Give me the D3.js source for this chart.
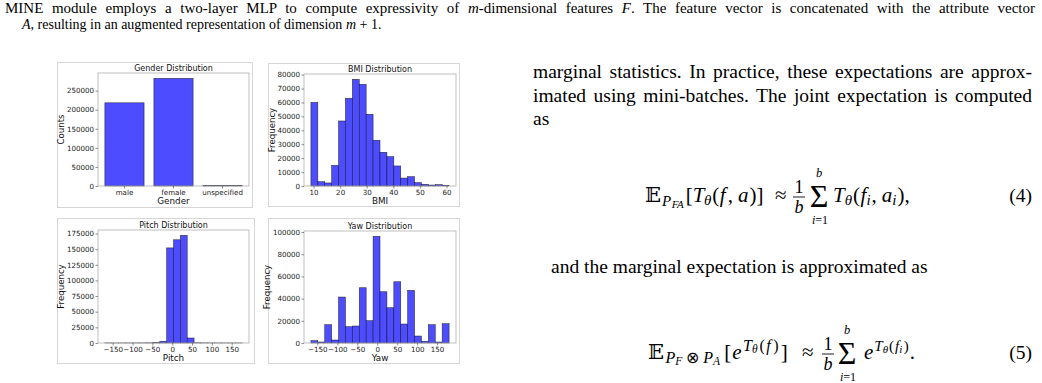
<!DOCTYPE html>
<html>
<head>
<meta charset="utf-8">
<script src="https://cdn.jsdelivr.net/npm/d3@7"></script>
<style>
  body { margin: 0; background: #fff; }
  svg text { white-space: pre; }
</style>
</head>
<body>
<svg id="page" width="1042" height="383"></svg>
<script>
// Gender bar chart
const genderCats = ["male", "female", "unspecified"];
const genderCounts = [218000, 282000, 1500];
const genderYTicks = [0, 50000, 100000, 150000, 200000, 250000];

// BMI histogram
const bmiEdges = [9.0, 11.6, 14.2, 16.8, 19.4, 22.0, 24.6, 27.2, 29.8, 32.4, 35.0, 37.6, 40.2, 42.8, 45.4, 48.0, 50.6, 53.2, 55.8, 58.4, 61.0];
const bmiCounts = [60000, 3100, 2200, 14800, 46700, 63000, 76600, 73000, 51500, 32800, 24200, 21100, 14400, 5700, 6700, 2400, 1200, 700, 1000, 500];
const bmiXTicks = [10, 20, 30, 40, 50, 60];
const bmiYTicks = [0, 10000, 20000, 30000, 40000, 50000, 60000, 70000, 80000];

// Pitch histogram
const pitchEdges = [-169.7, -152.4, -135.1, -117.8, -100.5, -83.2, -65.9, -48.6, -31.3, -14.0, 3.3, 20.6, 37.9, 55.2, 72.5, 89.8, 107.1, 124.4, 141.7, 159.0, 176.3];
const pitchCounts = [150, 100, 100, 120, 150, 200, 300, 600, 2700, 152000, 165000, 172000, 8000, 400, 200, 150, 120, 100, 100, 100];
const pitchYTicks = [0, 25000, 50000, 75000, 100000, 125000, 150000, 175000];

// Yaw histogram
const yawEdges = [-166.0, -148.7, -131.4, -114.1, -96.8, -79.5, -62.2, -44.9, -27.6, -10.3, 7.0, 24.3, 41.6, 58.9, 76.2, 93.5, 110.8, 128.1, 145.4, 162.7, 180.0];
const yawCounts = [2100, 900, 16500, 2700, 41400, 14700, 15300, 49800, 20100, 96100, 46200, 31800, 55200, 17100, 47400, 6300, 1500, 16500, 900, 17400];
const yawYTicks = [0, 20000, 40000, 60000, 80000, 100000];

const angleTicks = [-150, -100, -50, 0, 50, 100, 150];

const svg = d3.select("#page");
const fmt = d3.format("d");
const sans = '"DejaVu Sans", sans-serif';
const serif = '"Liberation Serif", "Times New Roman", serif';

function drawPanel(opt) {
  const [fx0, fy0, fx1, fy1] = opt.frame;
  const [l, t, r, b] = opt.plot;
  const g = svg.append("g").attr("font-family", sans);

  // light frame round the whole figure
  g.append("rect")
    .attr("x", fx0 + 0.5).attr("y", fy0 + 0.5)
    .attr("width", fx1 - fx0).attr("height", fy1 - fy0)
    .attr("fill", "none").attr("stroke", "#d6d6d6");

  const y = d3.scaleLinear()
    .domain([0, d3.max(opt.bars, d => d.v) * 1.05])
    .range([b, t]);

  g.selectAll("rect.bar")
    .data(opt.bars)
    .join("rect")
    .attr("class", "bar")
    .attr("x", d => d.x0)
    .attr("width", d => d.x1 - d.x0)
    .attr("y", d => y(d.v))
    .attr("height", d => b - y(d.v))
    .attr("fill", "#4d4dff")
    .attr("stroke", "#000")
    .attr("stroke-opacity", 0.7)
    .attr("stroke-width", 0.6);

  g.append("rect")
    .attr("x", l).attr("y", t)
    .attr("width", r - l).attr("height", b - t)
    .attr("fill", "none").attr("stroke", "#b0b0b0").attr("stroke-width", 0.8);

  const yAxis = g.append("g")
    .attr("transform", `translate(${l},0)`)
    .call(d3.axisLeft(y).tickValues(opt.yTicks).tickFormat(fmt).tickSize(2.5).tickPadding(1.5));
  const xAxis = g.append("g")
    .attr("transform", `translate(0,${b})`)
    .call(d3.axisBottom(opt.x).tickValues(opt.xTicks).tickFormat(opt.xFormat).tickSize(2.5).tickPadding(1.5));

  [yAxis, xAxis].forEach(a => {
    a.attr("font-family", sans);
    a.select(".domain").remove();
    a.selectAll(".tick line").attr("stroke", "#444").attr("stroke-width", 0.6);
    a.selectAll(".tick text").attr("font-size", 7.1).attr("fill", "#222");
  });

  g.append("text")
    .attr("x", (l + r) / 2).attr("y", t - 2.5)
    .attr("text-anchor", "middle")
    .attr("font-size", 8).attr("fill", "#111")
    .text(opt.title);

  g.append("text")
    .attr("x", (l + r) / 2).attr("y", b + 18)
    .attr("text-anchor", "middle")
    .attr("font-size", 8.8).attr("fill", "#111")
    .text(opt.xLabel);

  const box = yAxis.node().getBBox();
  g.append("text")
    .attr("transform", `translate(${l + box.x - 2.5},${(t + b) / 2}) rotate(-90)`)
    .attr("text-anchor", "middle")
    .attr("font-size", 8.6).attr("fill", "#111")
    .text(opt.yLabel);
}

function histBars(edges, counts, x) {
  return counts.map((v, i) => ({ x0: x(edges[i]), x1: x(edges[i + 1]), v }));
}

function histScale(edges, range) {
  const lo = edges[0], hi = edges[edges.length - 1], pad = (hi - lo) * 0.05;
  return d3.scaleLinear().domain([lo - pad, hi + pad]).range(range);
}

// Gender
const gx = d3.scaleBand().domain(genderCats).range([98, 249]).paddingInner(0.2).paddingOuter(0.14);
drawPanel({
  frame: [57, 62, 252, 207], plot: [98, 73, 249, 186],
  title: "Gender Distribution", xLabel: "Gender", yLabel: "Counts",
  x: gx, xTicks: genderCats, xFormat: d => d, yTicks: genderYTicks,
  bars: genderCounts.map((v, i) => ({ x0: gx(genderCats[i]), x1: gx(genderCats[i]) + gx.bandwidth(), v }))
});

// BMI
const bx = histScale(bmiEdges, [304, 456]);
drawPanel({
  frame: [268, 63, 459, 206], plot: [304, 74, 456, 186],
  title: "BMI Distribution", xLabel: "BMI", yLabel: "Frequency",
  x: bx, xTicks: bmiXTicks, xFormat: fmt, yTicks: bmiYTicks,
  bars: histBars(bmiEdges, bmiCounts, bx)
});

// Pitch
const px = histScale(pitchEdges, [98, 249]);
drawPanel({
  frame: [57, 218, 254, 363], plot: [98, 230, 249, 343],
  title: "Pitch Distribution", xLabel: "Pitch", yLabel: "Frequency",
  x: px, xTicks: angleTicks, xFormat: fmt, yTicks: pitchYTicks,
  bars: histBars(pitchEdges, pitchCounts, px)
});

// Yaw
const yx = histScale(yawEdges, [304, 456]);
drawPanel({
  frame: [268, 218, 459, 363], plot: [304, 231, 456, 343],
  title: "Yaw Distribution", xLabel: "Yaw", yLabel: "Frequency",
  x: yx, xTicks: angleTicks, xFormat: fmt, yTicks: yawYTicks,
  bars: histBars(yawEdges, yawCounts, yx)
});

// ---- surrounding text ----
function richText(x, y, size, parts, attrs = {}) {
  const t = svg.append("text")
    .attr("x", x).attr("y", y)
    .attr("font-family", serif)
    .attr("font-size", size).attr("fill", "#000");
  Object.entries(attrs).forEach(([k, v]) => t.attr(k, v));
  parts.forEach(p => {
    const [str, o] = typeof p === "string" ? [p, {}] : p;
    const s = t.append("tspan").text(str);
    if (o.i) s.attr("font-style", "italic");
    if (o.s) s.attr("font-size", o.s);
    if (o.dy) s.attr("dy", o.dy);
    if (o.dx) s.attr("dx", o.dx);
    if (o.f) s.attr("font-family", o.f);
  });
  return t;
}

// justify a line by stretching the word gaps
function justify(t, width) {
  const node = t.node();
  const spaces = (node.textContent.match(/ /g) || []).length;
  const extra = width - node.getComputedTextLength();
  if (spaces) t.attr("word-spacing", extra / spaces);
}

justify(richText(5, 13, 15, [
  "MINE module employs a two-layer MLP to compute expressivity of ", ["m", { i: 1 }],
  "-dimensional features ", ["F", { i: 1 }],
  ". The feature vector is concatenated with the attribute vector"
]), 1030);
richText(22, 29, 14, [
  ["A", { i: 1 }], ", resulting in an augmented representation of dimension ", ["m", { i: 1 }], " + 1."
]);

const body = 19.5;
justify(richText(533, 78, body, ["marginal statistics. In practice, these expectations are approx-"]), 499);
justify(richText(533, 101.5, body, ["imated using mini-batches. The joint expectation is computed"]), 499);
richText(533, 125, body, ["as"]);

richText(551, 273, body, ["and the marginal expectation is approximated as"]);

const bb = { f: '"DejaVu Serif", "DejaVu Sans", serif' };

function sumBlock(cx, y, fracX) {
  // fraction 1/b
  richText(fracX, y - 9, 18, ["1"], { "text-anchor": "middle" });
  svg.append("line")
    .attr("x1", fracX - 6).attr("x2", fracX + 6)
    .attr("y1", y - 5).attr("y2", y - 5)
    .attr("stroke", "#000").attr("stroke-width", 0.9);
  richText(fracX, y + 11, 18, [["b", { i: 1 }]], { "text-anchor": "middle" });
  // big sum with limits
  richText(cx, y + 5, 32, ["\u03A3"], { "text-anchor": "middle" });
  richText(cx, y - 25, 12.5, [["b", { i: 1 }]], { "text-anchor": "middle" });
  richText(cx + 1, y + 22, 12, [["i", { i: 1 }], "=1"], { "text-anchor": "middle" });
}

// equation (4)
const y4 = 202;
richText(645, y4, 21, [
  ["\u{1D53C}", bb], ["P", { i: 1, s: 15, dy: 4, dx: 1 }], ["FA", { i: 1, s: 11, dy: 2, dx: 0.5 }],
  ["[", { dy: -6, dx: 2 }], ["T", { i: 1 }], ["\u03B8", { i: 1, s: 15, dy: 3, dx: -0.5 }],
  ["(", { dy: -3, dx: 1 }], ["f", { i: 1, dx: 0.5 }], [",", { dx: 2 }], ["a", { i: 1, dx: 5 }],
  [")", { dx: 1 }], "]"
]);
richText(775, y4, 21, ["\u2248"]);
sumBlock(819, y4, 799);
richText(833, y4, 21, [
  ["T", { i: 1 }], ["\u03B8", { i: 1, s: 15, dy: 3 }], ["(", { dy: -3, dx: 1 }],
  ["f", { i: 1, dx: 0.5 }], ["i", { i: 1, s: 15, dy: 3 }], [",", { dy: -3, dx: 1 }],
  ["a", { i: 1, dx: 5 }], ["i", { i: 1, s: 15, dy: 3 }], [")", { dy: -3, dx: 1 }], ","
]);
richText(1032, y4, body, ["(4)"], { "text-anchor": "end" });

// equation (5)
const y5 = 359;
richText(648, y5, 21, [
  ["\u{1D53C}", bb], ["P", { i: 1, s: 16, dy: 4, dx: 1.5 }], ["F", { i: 1, s: 11.5, dy: 2 }],
  ["\u2297", { s: 16, dy: -2, dx: 4 }], ["P", { i: 1, s: 16, dx: 4 }], ["A", { i: 1, s: 11.5, dy: 2 }],
  ["[", { dy: -6, dx: 4 }], ["e", { i: 1, dx: 1 }], ["T", { i: 1, s: 16, dy: -8, dx: 1.5 }],
  ["\u03B8", { i: 1, s: 11.5, dy: 2 }], ["(", { s: 16, dy: -2, dx: 2 }], ["f", { i: 1, s: 16, dx: 1.5 }],
  [")", { s: 16, dx: 2.5 }], ["]", { dy: 8, dx: 2 }]
]);
richText(802, y5, 21, ["\u2248"]);
sumBlock(847, y5, 828);
richText(864, y5, 21, [
  ["e", { i: 1 }], ["T", { i: 1, s: 15, dy: -8, dx: 1 }], ["\u03B8", { i: 1, s: 11, dy: 2 }],
  ["(", { s: 15, dy: -2, dx: 1 }], ["f", { i: 1, s: 15, dx: 1 }], ["i", { i: 1, s: 11, dy: 2 }],
  [")", { s: 15, dy: -2, dx: 1.5 }], [".", { dy: 8, dx: 1 }]
]);
richText(1032, y5, body, ["(5)"], { "text-anchor": "end" });
</script>
</body>
</html>
